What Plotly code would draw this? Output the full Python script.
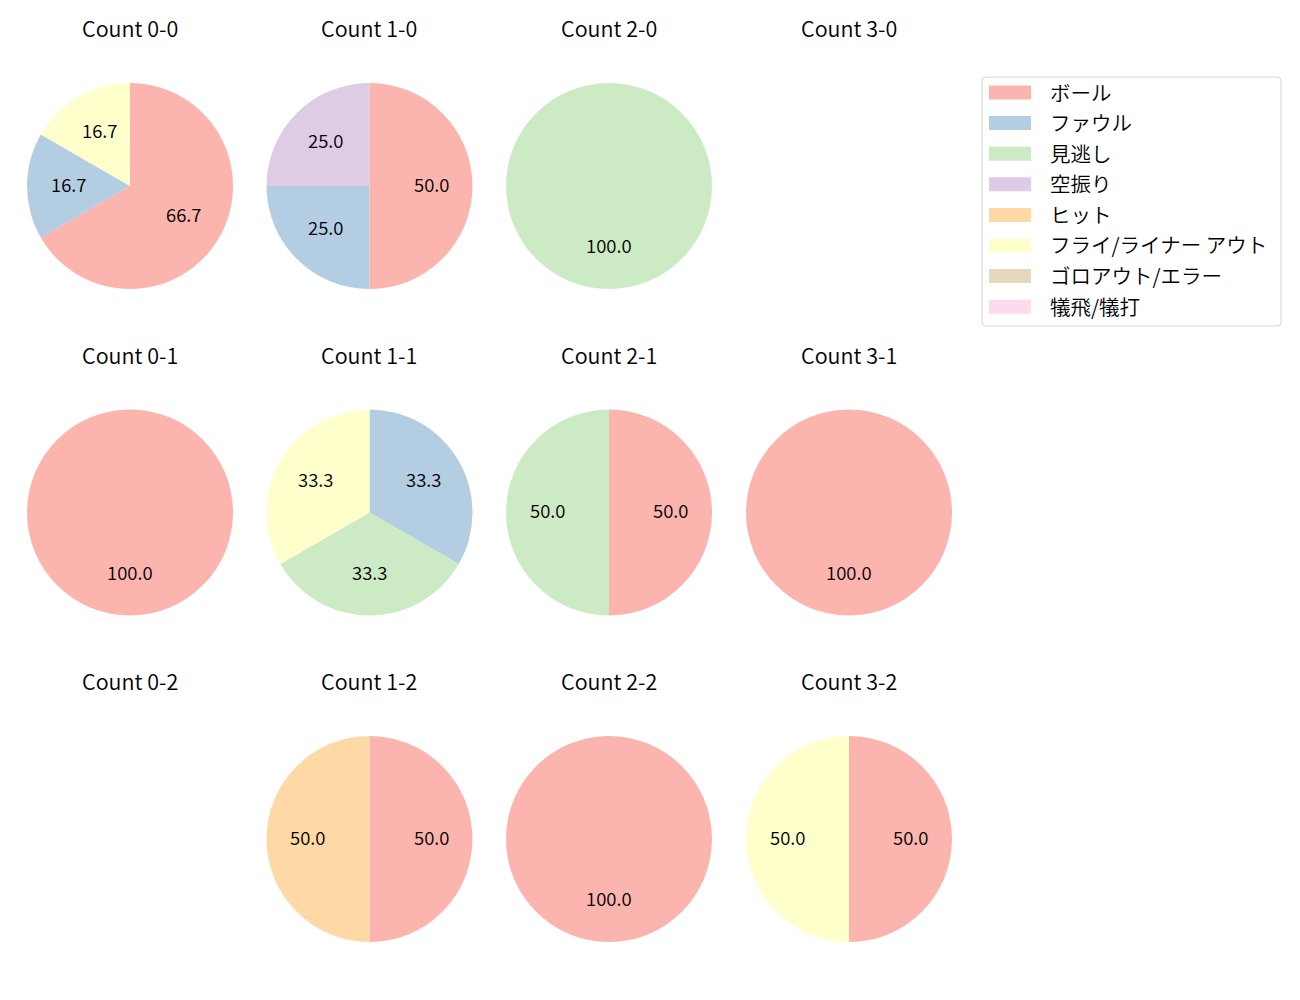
import math
import plotly.graph_objects as go

categories = ["ボール", "ファウル", "見逃し", "空振り", "ヒット",
              "フライ/ライナー アウト", "ゴロアウト/エラー", "犠飛/犠打"]
colors = ["#fbb4ae", "#b3cde3", "#ccebc5", "#decbe4", "#fed9a6",
          "#ffffcc", "#e5d8bd", "#fddaec"]

# counts per category, in category order
count_titles = [["Count 0-0", "Count 1-0", "Count 2-0", "Count 3-0"],
                ["Count 0-1", "Count 1-1", "Count 2-1", "Count 3-1"],
                ["Count 0-2", "Count 1-2", "Count 2-2", "Count 3-2"]]
count_0_0 = [4, 1, 0, 0, 0, 1, 0, 0]
count_1_0 = [2, 1, 0, 1, 0, 0, 0, 0]
count_2_0 = [0, 0, 1, 0, 0, 0, 0, 0]
count_3_0 = [0, 0, 0, 0, 0, 0, 0, 0]
count_0_1 = [1, 0, 0, 0, 0, 0, 0, 0]
count_1_1 = [0, 1, 1, 0, 0, 1, 0, 0]
count_2_1 = [1, 0, 1, 0, 0, 0, 0, 0]
count_3_1 = [1, 0, 0, 0, 0, 0, 0, 0]
count_0_2 = [0, 0, 0, 0, 0, 0, 0, 0]
count_1_2 = [1, 0, 0, 0, 1, 0, 0, 0]
count_2_2 = [1, 0, 0, 0, 0, 0, 0, 0]
count_3_2 = [1, 0, 0, 0, 0, 1, 0, 0]
grid = [[count_0_0, count_1_0, count_2_0, count_3_0],
        [count_0_1, count_1_1, count_2_1, count_3_1],
        [count_0_2, count_1_2, count_2_2, count_3_2]]

W, H = 1300, 1000
OFF = 8  # page body margin
col_cx = [130, 369.5, 609, 849]
row_cy = [186, 512.5, 839]
R = 103
title_offset = 158.5
label_dy = -2.5
FONT = "Noto Sans CJK JP"
WEIGHT = 350

def px(x):
    return (x - OFF) / W

def py(y):
    return 1 - (y - OFF) / H

fig = go.Figure()
annotations = []
shapes = []

for r, row in enumerate(grid):
    for c, vals in enumerate(row):
        cx, cy = col_cx[c], row_cy[r]
        annotations.append(dict(x=px(cx), y=py(cy - title_offset), xref="paper", yref="paper",
                                text=count_titles[r][c], showarrow=False,
                                font=dict(size=21.5, color="#000000", family=FONT, weight=WEIGHT),
                                xanchor="center", yanchor="middle"))
        total = sum(vals)
        if total == 0:
            continue
        fig.add_trace(go.Pie(
            labels=categories, values=vals, sort=False, direction="clockwise",
            rotation=0, marker=dict(colors=colors, line=dict(width=0)),
            textinfo="none", hoverinfo="label+percent", showlegend=False,
            domain=dict(x=[px(cx - R), px(cx + R)], y=[py(cy + R), py(cy - R)]),
        ))
        # percentage labels at 0.6 radius of each slice's mid angle
        start = 90.0
        for v in vals:
            if v == 0:
                continue
            sweep = 360.0 * v / total
            mid = math.radians(start - sweep / 2)
            start -= sweep
            lx = cx + 0.6 * R * math.cos(mid)
            ly = cy - 0.6 * R * math.sin(mid) + label_dy
            annotations.append(dict(x=px(lx), y=py(ly), xref="paper", yref="paper",
                                    text=f"{100.0 * v / total:.1f}", showarrow=False,
                                    font=dict(size=18.5, color="#000000", family=FONT, weight=WEIGHT),
                                    xanchor="center", yanchor="middle"))

# legend (manual, matplotlib style)
lx0, ly0, lx1, ly1 = 982, 77, 1281, 326
rad = 4
path = (f"M {px(lx0+rad)} {py(ly0)} L {px(lx1-rad)} {py(ly0)} "
        f"Q {px(lx1)} {py(ly0)} {px(lx1)} {py(ly0+rad)} L {px(lx1)} {py(ly1-rad)} "
        f"Q {px(lx1)} {py(ly1)} {px(lx1-rad)} {py(ly1)} L {px(lx0+rad)} {py(ly1)} "
        f"Q {px(lx0)} {py(ly1)} {px(lx0)} {py(ly1-rad)} L {px(lx0)} {py(ly0+rad)} "
        f"Q {px(lx0)} {py(ly0)} {px(lx0+rad)} {py(ly0)} Z")
shapes.append(dict(type="path", path=path, xref="paper", yref="paper",
                   line=dict(color="#d6d6d6", width=1), fillcolor="rgba(255,255,255,0.8)"))
for i, (cat, col) in enumerate(zip(categories, colors)):
    yc = 92.5 + i * 30.6
    shapes.append(dict(type="rect", xref="paper", yref="paper",
                       x0=px(989), x1=px(1031), y0=py(yc - 7), y1=py(yc + 7),
                       fillcolor=col, line=dict(width=0)))
    annotations.append(dict(x=px(1048), y=py(yc - 1), xref="paper", yref="paper",
                            text=cat, showarrow=False, xanchor="left", yanchor="middle",
                            font=dict(size=20.5, color="#000000", family=FONT, weight=WEIGHT)))

fig.update_layout(
    width=W, height=H, margin=dict(l=0, r=0, t=0, b=0),
    paper_bgcolor="white", plot_bgcolor="white",
    annotations=annotations, shapes=shapes, showlegend=False,
    font=dict(family=FONT),
)
fig.write_html("out.html")
